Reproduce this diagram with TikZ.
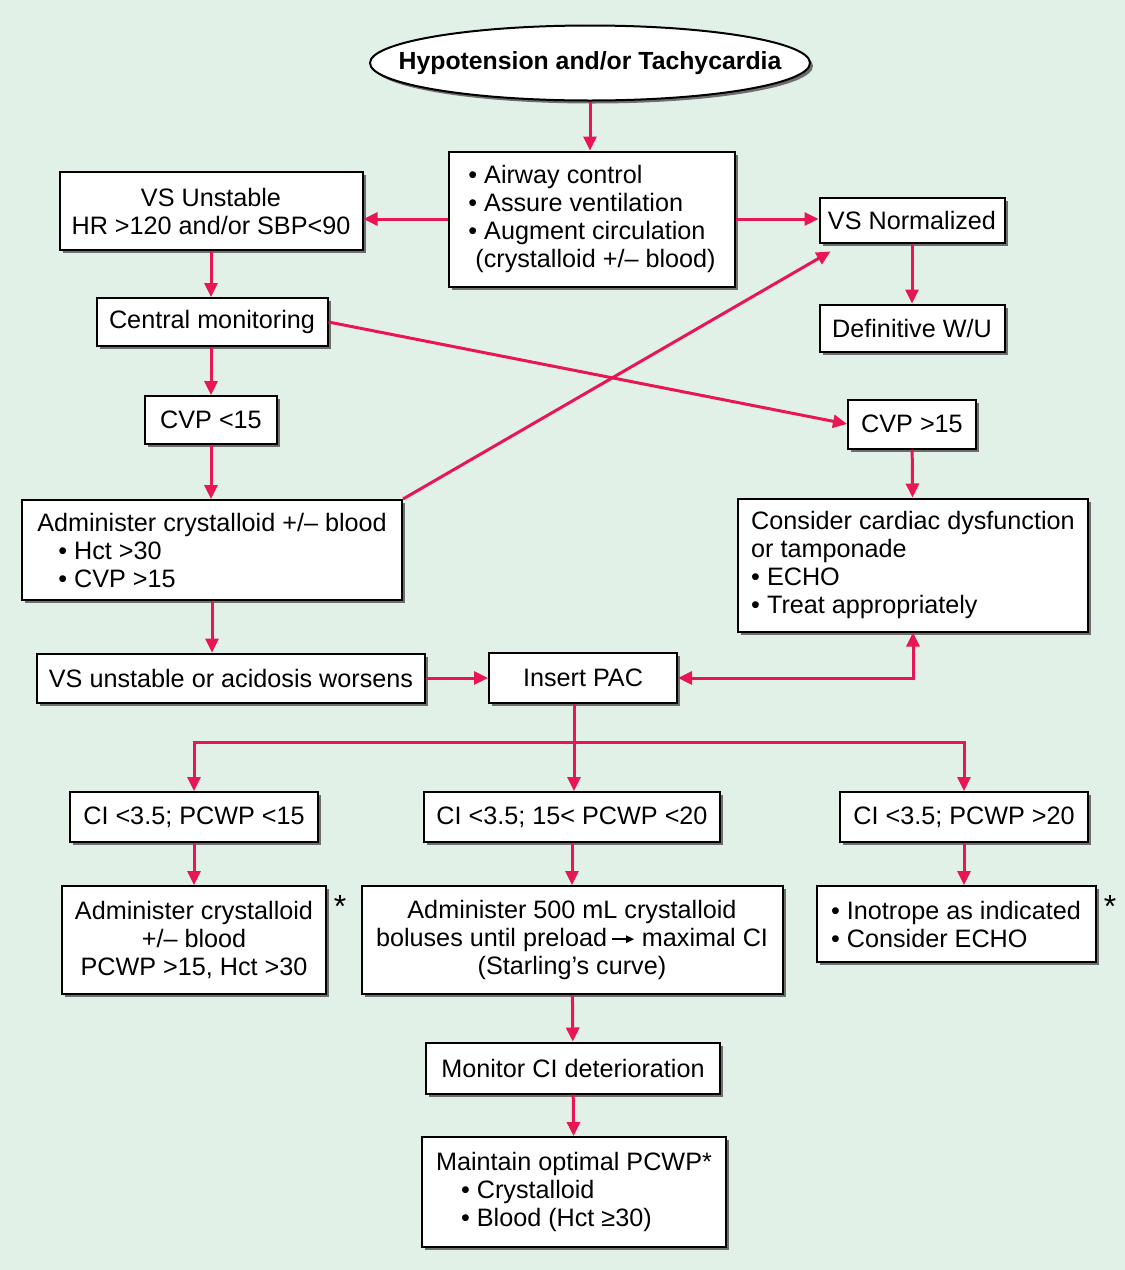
\documentclass[tikz,border=0pt]{standalone}
\usepackage{fontspec}
\setmainfont{Liberation Sans}
\usetikzlibrary{shapes.geometric,shadows,arrows.meta}
\definecolor{bggreen}{RGB}{226,241,231}
\definecolor{flowred}{RGB}{232,22,82}
\definecolor{shadowgray}{RGB}{110,110,110}
\newcommand{\preto}{\tikz[baseline=-0.55ex]\draw[line width=0.8pt,-{Triangle[length=4pt,width=3.6pt]}] (0pt,0pt) -- (11pt,0pt);}

\begin{document}
\begin{tikzpicture}[x=0.5pt, y=-0.5pt,
    >={Triangle[length=7pt,width=6.5pt]},
    box/.style={draw=black, line width=1pt, fill=white, inner sep=0pt,
        font=\fontsize{12.6}{14}\selectfont,
        drop shadow={shadow xshift=1.5pt, shadow yshift=-1.5pt,
            opacity=1, fill=shadowgray}},
    flow/.style={draw=flowred, line width=1.5pt, ->}]
    \path[use as bounding box, fill=bggreen] (0,0) rectangle (1125,1270);

    % top
    \node[box, ellipse, minimum width=220pt, minimum height=37.5pt,
        font=\bfseries\fontsize{12.4}{14}\selectfont] (hypo) at (590,63)
        {\makebox[0pt]{Hypotension and/or Tachycardia}};
    \node[box, minimum width=143pt, minimum height=67.5pt, align=left] (airway) at (592,219)
        {•~Airway control\\•~Assure ventilation\\•~Augment circulation\\\hspace{3.5pt}(crystalloid +/– blood)};
    \node[box, minimum width=151.5pt, minimum height=39pt, align=center] (vsu) at (211,211)
        {VS Unstable\\HR >120 and/or SBP<90};
    \node[box, minimum width=92.5pt, minimum height=22.5pt] (vsn) at (912,220) {VS Normalized};
    \node[box, minimum width=92.5pt, minimum height=23.5pt] (defwu) at (912,328) {Definitive W/U};

    % middle
    \node[box, minimum width=115.5pt, minimum height=24pt] (central) at (212,322) {Central monitoring};
    \node[box, minimum width=66pt, minimum height=24pt] (cvplo) at (211,420) {CVP <15};
    \node[box, minimum width=64pt, minimum height=24.5pt] (cvphi) at (912,424) {CVP >15};
    \node[box, minimum width=190pt, minimum height=50pt, align=left] (admin) at (212,550)
        {Administer crystalloid +/– blood\\\hspace{10.5pt}•~Hct >30\\\hspace{10.5pt}•~CVP >15};
    \node[box, minimum width=175pt, minimum height=66.5pt, align=left] (cardiac) at (913,565)
        {Consider cardiac dysfunction\\or tamponade\\•~ECHO\\•~Treat appropriately};
    \node[box, minimum width=194pt, minimum height=24.5pt] (worse) at (231,678) {VS unstable or acidosis worsens};
    \node[box, minimum width=94pt, minimum height=25pt] (pac) at (583,678) {Insert PAC};

    % bottom
    \node[box, minimum width=124pt, minimum height=25pt] (cilo) at (194,817) {CI <3.5; PCWP <15};
    \node[box, minimum width=148pt, minimum height=25pt] (cimid) at (572,817) {CI <3.5; 15< PCWP <20};
    \node[box, minimum width=124pt, minimum height=25pt] (cihi) at (964,817) {CI <3.5; PCWP >20};
    \node[box, minimum width=132pt, minimum height=54pt, align=center] (fluid) at (194,940)
        {Administer crystalloid\\+/– blood\\PCWP >15, Hct >30};
    \node[box, minimum width=210.5pt, minimum height=54pt, align=center] (bolus) at (572,940)
        {Administer 500 mL crystalloid\\boluses until preload\,\preto\ maximal CI\\(Starling’s curve)};
    \node[box, minimum width=139.5pt, minimum height=38pt, align=left] (inotrope) at (956,924)
        {•~Inotrope as indicated\\•~Consider ECHO};
    \node[box, minimum width=147pt, minimum height=25.5pt] (monitor) at (573,1068) {Monitor CI deterioration};
    \node[box, minimum width=152pt, minimum height=55pt, align=left] (optimal) at (574,1192)
        {Maintain optimal PCWP*\\\hspace{12.5pt}•~Crystalloid\\\hspace{12.5pt}•~Blood (Hct ≥30)};
    \node[font=\fontsize{16}{16}\selectfont] (ast1) at (340,906) {*};
    \node[font=\fontsize{16}{16}\selectfont] (ast2) at (1110,906) {*};

    % connectors
    \draw[flow] (hypo.south) -- (hypo.south |- airway.north);
    \draw[flow] (airway.west) -- (airway.west -| vsu.east);
    \draw[flow] (airway.east) -- (airway.east -| vsn.west);
    \draw[flow] (vsu.south) -- (vsu.south |- central.north);
    \draw[flow] (vsn) -- (defwu);
    \draw[flow] (central.south -| cvplo) -- (cvplo);
    \draw[flow] (central.east) -- (cvphi.west);
    \draw[flow] (cvplo.south) -- (cvplo.south |- admin.north);
    \draw[flow] (admin.north east) -- ([xshift=6pt,yshift=-4pt]vsn.south west);
    \draw[flow] (cvphi) -- (cardiac);
    \draw[flow] (admin.south) -- (admin.south |- worse.north);
    \draw[flow] (worse) -- (pac);
    \draw[flow, <->] (pac.east) -| (cardiac.south);

    \coordinate (bus) at (574,742);
    \draw[flow, -] (pac.south -| bus) -- (bus);
    \draw[flow] (bus) -| (cilo.north);
    \draw[flow] (bus) -| (cihi.north);
    \draw[flow] (bus) -- (bus |- cimid.north);
    \draw[flow] (cilo) -- (fluid);
    \draw[flow] (cimid) -- (bolus);
    \draw[flow] (cihi.south) -- (cihi.south |- inotrope.north);
    \draw[flow] (bolus) -- (monitor);
    \draw[flow] (monitor) -- (optimal);
\end{tikzpicture}
\end{document}
